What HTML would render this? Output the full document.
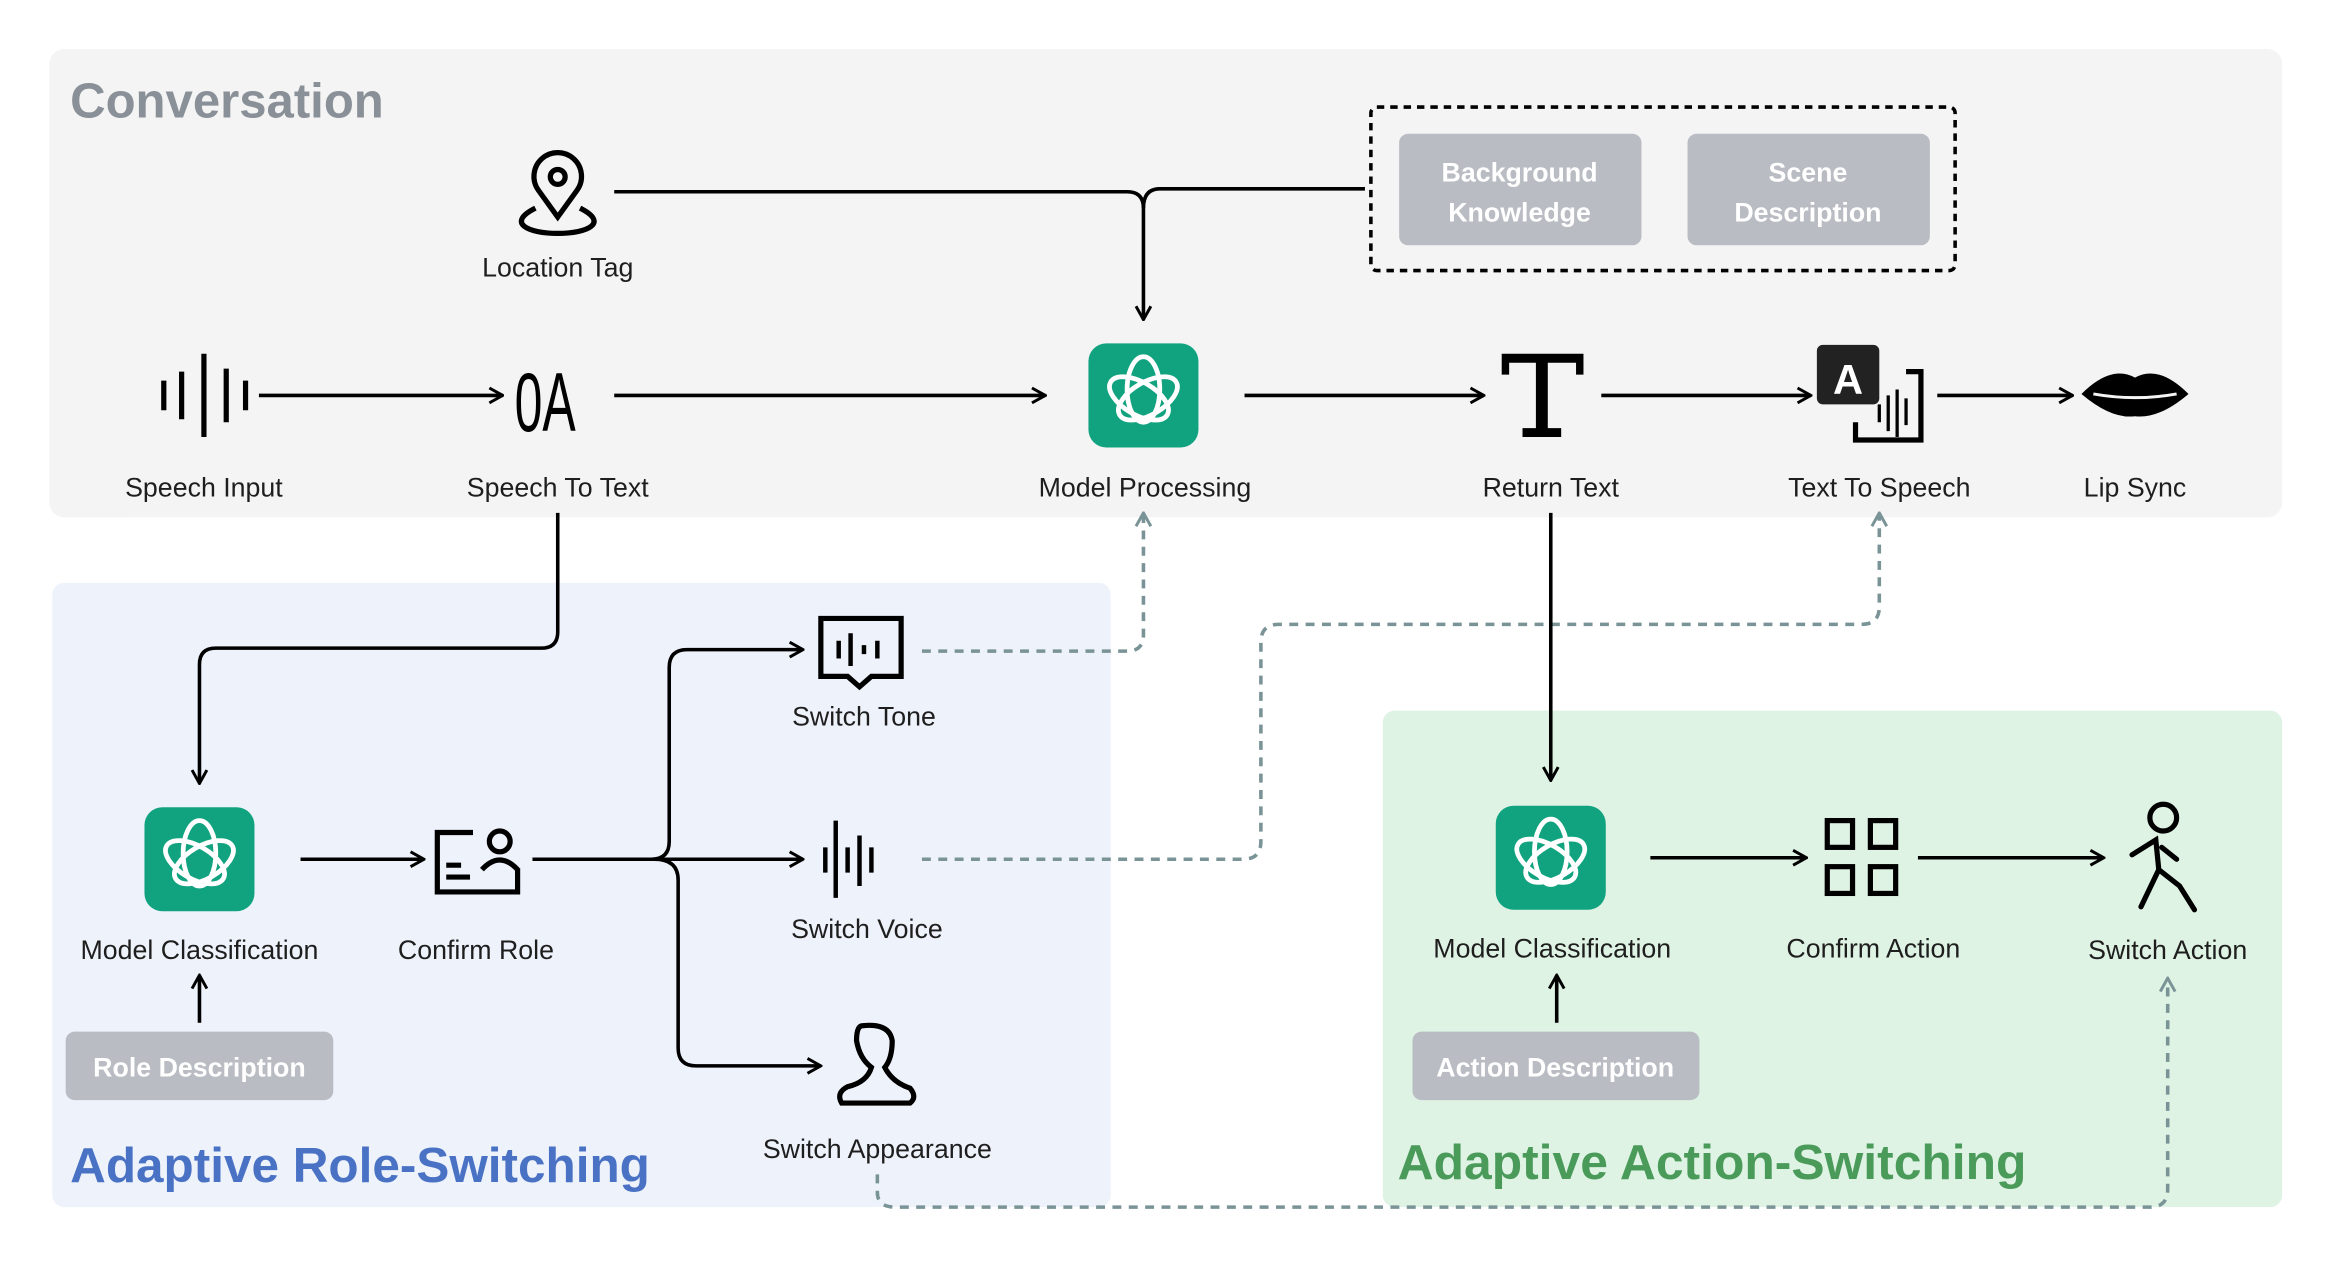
<!DOCTYPE html>
<html><head><meta charset="utf-8"><style>
html,body{margin:0;padding:0;background:#fff}
svg{display:block}
text{font-family:"Liberation Sans",sans-serif}
.lbl{font-size:18px;fill:#1e1e1e;text-anchor:middle}
.tag{font-size:18px;fill:#fff;font-weight:bold;text-anchor:middle}
.ln{fill:none;stroke:#000;stroke-width:2.4}
.ds{fill:none;stroke:#7a9396;stroke-width:2.4;stroke-dasharray:6 5}
.ic{fill:none;stroke:#000;stroke-width:3.5}
</style></head><body>
<svg width="2330" height="1274" viewBox="0 0 1567 857" xmlns="http://www.w3.org/2000/svg">
<defs>
<marker id="a" viewBox="0 0 12 12" refX="11" refY="6" markerWidth="12" markerHeight="12" markerUnits="userSpaceOnUse" orient="auto"><path d="M2,1 L11,6 L2,11" fill="none" stroke="#000" stroke-width="2"/></marker>
<marker id="d" viewBox="0 0 12 12" refX="11" refY="6" markerWidth="12" markerHeight="12" markerUnits="userSpaceOnUse" orient="auto"><path d="M2,1 L11,6 L2,11" fill="none" stroke="#7a9396" stroke-width="2"/></marker>
<g id="gpt">
<rect x="-37" y="-35" width="74" height="70" rx="12" fill="#11a37f"/>
<g fill="none" stroke="#fff" stroke-width="3.2">
<ellipse rx="11" ry="22" transform="translate(0,-4)"/>
<ellipse rx="11" ry="22" transform="translate(3,2) rotate(60)"/>
<ellipse rx="11" ry="22" transform="translate(-3,2) rotate(-60)"/>
</g>
</g>
</defs>
<rect x="33" y="33" width="1502" height="315" rx="10" fill="#f4f4f4"/>
<rect x="35" y="392" width="712" height="420" rx="8" fill="#eef3fb"/>
<rect x="930" y="478" width="605" height="334" rx="8" fill="#dff3e4"/>
<text x="47" y="79" font-size="33" font-weight="bold" fill="#8a9097" textLength="211" lengthAdjust="spacingAndGlyphs">Conversation</text>
<text x="47" y="795" font-size="33" font-weight="bold" fill="#4a72c4" textLength="390" lengthAdjust="spacingAndGlyphs">Adaptive Role-Switching</text>
<text x="940" y="793" font-size="33" font-weight="bold" fill="#4a9a5a" textLength="423" lengthAdjust="spacingAndGlyphs">Adaptive Action-Switching</text>
<rect x="922" y="72" width="393" height="110" rx="4" fill="none" stroke="#000" stroke-width="2.4" stroke-dasharray="5 4"/>
<rect x="941" y="90" width="163" height="75" rx="6" fill="#b9bcc2"/>
<text class="tag" x="1022" y="122">Background</text><text class="tag" x="1022" y="149">Knowledge</text>
<rect x="1135" y="90" width="163" height="75" rx="6" fill="#b9bcc2"/>
<text class="tag" x="1216" y="122">Scene</text><text class="tag" x="1216" y="149">Description</text>
<path class="ic" d="M375,146 L362,128 A16,16 0 1 1 388,128 Z" stroke-width="3"/>
<circle cx="375" cy="119" r="5" class="ic" stroke-width="3"/>
<path class="ic" stroke-width="3" d="M360,140 C340,150 355,157 375,157 C395,157 410,150 390,140"/>
<text class="lbl" x="375" y="186">Location Tag</text>
<path class="ln" d="M413,129 H758 Q769,129 769,140 V215" marker-end="url(#a)"/>
<path class="ln" d="M918,127 H780 Q769,127 769,140"/>
<g stroke="#000" stroke-width="3.5"><path d="M110,256V276M122,250V282M137,238V294M152,248V284M165,256V276"/></g>
<text class="lbl" x="137" y="334">Speech Input</text>
<line class="ln" x1="174" y1="266" x2="338" y2="266" marker-end="url(#a)"/>
<text x="0" y="0" font-size="56" fill="#000" transform="translate(346,290) scale(0.6,1)">0A</text>
<text class="lbl" x="375" y="334">Speech To Text</text>
<line class="ln" x1="413" y1="266" x2="703" y2="266" marker-end="url(#a)"/>
<use href="#gpt" x="769" y="266"/>
<text class="lbl" x="770" y="334">Model Processing</text>
<line class="ln" x1="837" y1="266" x2="998" y2="266" marker-end="url(#a)"/>
<path d="M1010,238H1065V252H1060V244H1041V288H1050V294H1024V288H1033V244H1015V252H1010Z" fill="#000"/>
<text class="lbl" x="1043" y="334">Return Text</text>
<line class="ln" x1="1077" y1="266" x2="1218" y2="266" marker-end="url(#a)"/>
<rect x="1222" y="232" width="42" height="40" rx="4" fill="#222"/>
<text x="1243" y="265" font-size="28" font-weight="bold" fill="#fff" text-anchor="middle">A</text>
<path class="ic" stroke-width="2.5" d="M1282,250h10v46h-44v-12"/>
<g stroke="#000" stroke-width="2.2"><path d="M1264,272V284M1270,266V290M1276,262V294M1282,268V286"/></g>
<text class="lbl" x="1264" y="334">Text To Speech</text>
<line class="ln" x1="1303" y1="266" x2="1394" y2="266" marker-end="url(#a)"/>
<path d="M1400,265 Q1420,245 1436,254 Q1452,245 1472,265 Q1452,282 1436,280 Q1420,282 1400,265Z" fill="#000"/>
<path d="M1408,265 Q1436,270 1464,265" stroke="#f4f4f4" stroke-width="2" fill="none"/>
<text class="lbl" x="1436" y="334">Lip Sync</text>
<path class="ln" d="M375,345V425Q375,436 364,436H145Q134,436 134,447V527" marker-end="url(#a)"/>
<use href="#gpt" x="134" y="578"/>
<text class="lbl" x="134" y="645">Model Classification</text>
<line class="ln" x1="134" y1="688" x2="134" y2="656" marker-end="url(#a)"/>
<rect x="44" y="694" width="180" height="46" rx="6" fill="#b9bcc2"/>
<text class="tag" x="134" y="724">Role Description</text>
<line class="ln" x1="202" y1="578" x2="285" y2="578" marker-end="url(#a)"/>
<path class="ic" stroke-width="3" d="M318,560H294V600H348V584"/>
<circle cx="336" cy="566" r="7" class="ic" stroke-width="3"/>
<path class="ic" stroke-width="3" d="M324,585Q336,572 348,585M300,590H316M300,582H310"/>
<text class="lbl" x="320" y="645">Confirm Role</text>
<path class="ln" d="M358,578H438Q450,578 450,566V449Q450,437 462,437H540" marker-end="url(#a)"/>
<line class="ln" x1="438" y1="578" x2="540" y2="578" marker-end="url(#a)"/>
<path class="ln" d="M440,578Q456,578 456,592V705Q456,717 468,717H552" marker-end="url(#a)"/>
<path class="ic" stroke-width="3" d="M552,416H606V455H586L578,462L570,455H552Z"/>
<g stroke="#000" stroke-width="3"><path d="M564,431V443M572,426V448M581,434V440M590,431V443"/></g>
<text class="lbl" x="581" y="488">Switch Tone</text>
<g stroke="#000" stroke-width="3"><path d="M555,570V587M562,552V604M570,570V587M578,562V596M586,570V587"/></g>
<text class="lbl" x="583" y="631">Switch Voice</text>
<path class="ic" stroke-width="3" d="M580,690Q598,688 600,700Q600,712 595,718Q600,728 612,732Q617,738 612,742H566Q562,735 570,731Q583,728 586,718Q578,712 576,700Q576,690 580,690Z"/>
<text class="lbl" x="590" y="779">Switch Appearance</text>
<path class="ds" d="M620,438H758Q769,438 769,427V345" marker-end="url(#d)"/>
<path class="ds" d="M620,578H836Q848,578 848,566V432Q848,420 860,420H1252Q1264,420 1264,408V345" marker-end="url(#d)"/>
<path class="ds" d="M590,790V802Q590,812 602,812H1446Q1458,812 1458,800V658" marker-end="url(#d)"/>
<line class="ln" x1="1043" y1="345" x2="1043" y2="525" marker-end="url(#a)"/>
<use href="#gpt" x="1043" y="577"/>
<text class="lbl" x="1044" y="644">Model Classification</text>
<line class="ln" x1="1047" y1="688" x2="1047" y2="656" marker-end="url(#a)"/>
<rect x="950" y="694" width="193" height="46" rx="6" fill="#b9bcc2"/>
<text class="tag" x="1046" y="724">Action Description</text>
<line class="ln" x1="1110" y1="577" x2="1215" y2="577" marker-end="url(#a)"/>
<g class="ic" stroke-width="3.2"><rect x="1229" y="552" width="17" height="18"/><rect x="1258" y="552" width="17" height="18"/><rect x="1229" y="583" width="17" height="18"/><rect x="1258" y="583" width="17" height="18"/></g>
<text class="lbl" x="1260" y="644">Confirm Action</text>
<line class="ln" x1="1290" y1="577" x2="1415" y2="577" marker-end="url(#a)"/>
<circle cx="1455" cy="550" r="9" class="ic" stroke-width="3.5"/>
<path class="ic" stroke-width="4" stroke-linecap="round" d="M1434,575L1450,565L1452,585L1440,610M1454,570L1464,578M1452,585L1466,596L1476,612"/>
<text class="lbl" x="1458" y="645">Switch Action</text>
</svg>
</body></html>
